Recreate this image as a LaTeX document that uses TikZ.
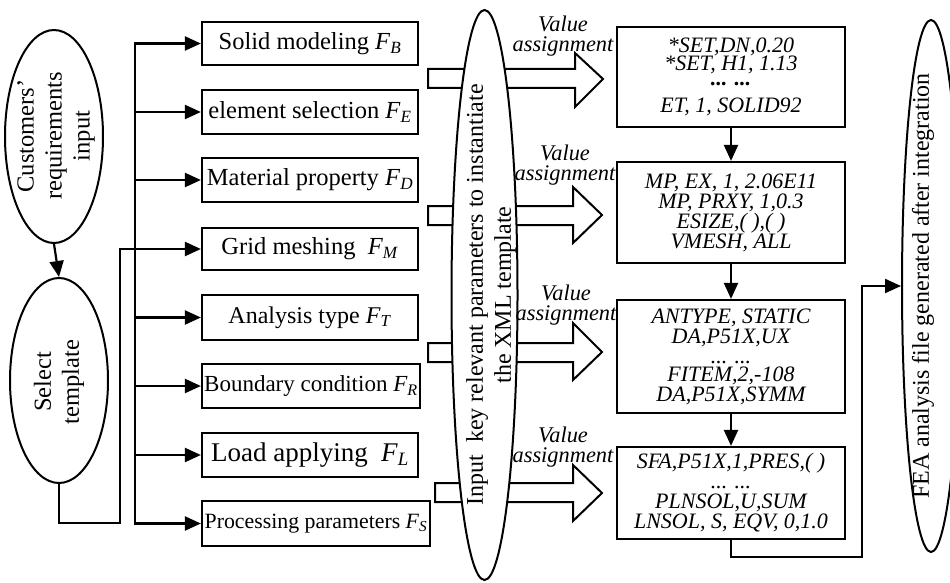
\documentclass[tikz,border=0pt]{standalone}
\usepackage{fontspec}
\setmainfont{Liberation Serif}
\usetikzlibrary{arrows.meta,shapes.geometric}
\newcommand{\Fsub}[1]{\textit{F}\textsubscript{\textit{#1}}}
\begin{document}
\begin{tikzpicture}[x=1pt,y=-1pt,line width=2.2pt,line cap=rect,line join=miter,
  arr/.style={-{Triangle[length=16pt,width=14pt]}},
  fbox/.style={draw, rectangle, inner sep=0pt, minimum width=216pt, font=\fontsize{24.5}{27}\selectfont},
  cbox/.style={draw, rectangle, inner sep=0pt, minimum width=228pt, align=center, font=\itshape\fontsize{22}{20}\selectfont},
  ell/.style={draw, ellipse, fill=white, inner sep=0pt, line width=2pt},
  etext/.style={rotate=90, align=center, inner sep=0pt, font=\fontsize{24.5}{28}\selectfont},
  vlab/.style={align=center, inner sep=0pt, font=\itshape\fontsize{22.4}{19.5}\selectfont},
  barrow/.style={draw, fill=white, line width=2pt}]
\clip (0,0) rectangle (950,583);
\fill[white] (0,0) rectangle (950,583);

% left boxes
\node[fbox, minimum height=43pt] (b1) at (310,43.5) {Solid modeling \Fsub{B}};
\node[fbox, minimum height=44pt] (b2) at (310,112) {element selection \Fsub{E}};
\node[fbox, minimum height=44pt] (b3) at (310,180) {Material property \Fsub{D}};
\node[fbox, minimum height=42pt] (b4) at (310,249) {Grid meshing\ \ \Fsub{M}};
\node[fbox, minimum height=45pt, font=\fontsize{24}{27}\selectfont] (b5) at (310,317.5) {Analysis type \Fsub{T}};
\node[fbox, minimum height=44pt, minimum width=218pt, font=\fontsize{23}{25}\selectfont] (b6) at (311,386) {Boundary condition \Fsub{R}};
\node[fbox, minimum height=44pt, font=\fontsize{27}{29}\selectfont] (b7) at (310,455) {Load applying\ \ \Fsub{L}};
\node[fbox, minimum height=45pt, minimum width=228pt, font=\fontsize{21.8}{24}\selectfont] (b8) at (316,523.5) {Processing parameters \Fsub{S}};

% left ellipses
\node[ell, minimum width=98pt, minimum height=213pt] (e1) at (54,136.5) {};
\node[etext] (e1t) at (56,136) {Customers'\\requirements\\input};
\node[ell, minimum width=98pt, minimum height=205pt] (e2) at (59,380.5) {};
\node[etext] (e2t) at (59,382) {Select\\template};
\draw[arr] (e1.south) -- (e2.north);

% feed to grid meshing
\coordinate (p2) at (120,523);
\draw[arr] (e2.south) |- (p2) |- (b4.west);

% bus
\coordinate (bt) at (135,43.5);
\coordinate (bb) at (135,523.5);
\draw[arr] (bb) |- (b1.west);
\draw[arr] (bb) -- (b8.west);
\draw[arr] (bt |- b2.west) -- (b2.west);
\draw[arr] (bt |- b3.west) -- (b3.west);
\draw[arr] (bt |- b5.west) -- (b5.west);
\draw[arr] (bt |- b6.west) -- (b6.west);
\draw[arr] (bt |- b7.west) -- (b7.west);

% block arrows
\draw[barrow] (428,69) -- (575,69) -- (575,53) -- (603,79) -- (575,107) -- (575,88) -- (428,88) -- cycle;
\draw[barrow] (428,206) -- (573,206) -- (573,187) -- (602,215) -- (573,243) -- (573,225) -- (428,225) -- cycle;
\draw[barrow] (428,343) -- (573,343) -- (573,323) -- (602,352) -- (573,380) -- (573,362) -- (428,362) -- cycle;
\draw[barrow] (435,483) -- (573,483) -- (573,465) -- (602,493) -- (573,521) -- (573,502) -- (435,502) -- cycle;

% big middle ellipse
\node[ell, minimum width=66pt, minimum height=570pt] (e3) at (484.5,295) {};
\node[etext, font=\fontsize{24}{28}\selectfont] (e3t) at (491,295) {Input\ \ key relevant parameters to instantiate\\the XML template};

% value assignment labels
\node[vlab] (v1) at (563,36) {Value\\assignment};
\node[vlab] (v2) at (565,165) {Value\\assignment};
\node[vlab] (v3) at (566,305) {Value\\assignment};
\node[vlab] (v4) at (563,447) {Value\\assignment};

% code boxes
\node[cbox, minimum height=100pt] (c1) at (731,77) {*SET,DN,0.20\\[-2pt]*SET, H1, 1.13\\[-5pt]\textbf{... ...}\\[7pt]ET, 1, SOLID92};
\node[cbox, minimum height=101pt] (c2) at (731,212.5) {MP, EX, 1, 2.06E11\\MP, PRXY, 1,0.3\\ESIZE,( ),( )\\VMESH, ALL};
\node[cbox, minimum height=113pt] (c3) at (731,356.5) {ANTYPE, STATIC\\DA,P51X,UX\\... ...\\[-2pt]FITEM,2,-108\\DA,P51X,SYMM};
\node[cbox, minimum height=92pt] (c4) at (731,493) {SFA,P51X,1,PRES,( )\\... ...\\PLNSOL,U,SUM\\LNSOL, S, EQV, 0,1.0};
\draw[arr] (c1.south) -- (c2.north);
\draw[arr] (c2.south) -- (c3.north);
\draw[arr] (c3.south) -- (c4.north);

% right ellipse
\node[ell, minimum width=58pt, minimum height=532pt] (e4) at (931,286) {};
\node[etext, font=\fontsize{24}{28}\selectfont] (e4t) at (923,286) {FEA analysis file generated after integration};
\coordinate (r1) at (862,557);
\draw[arr] (c4.south) |- (r1) |- (e4.west);
\end{tikzpicture}
\end{document}
